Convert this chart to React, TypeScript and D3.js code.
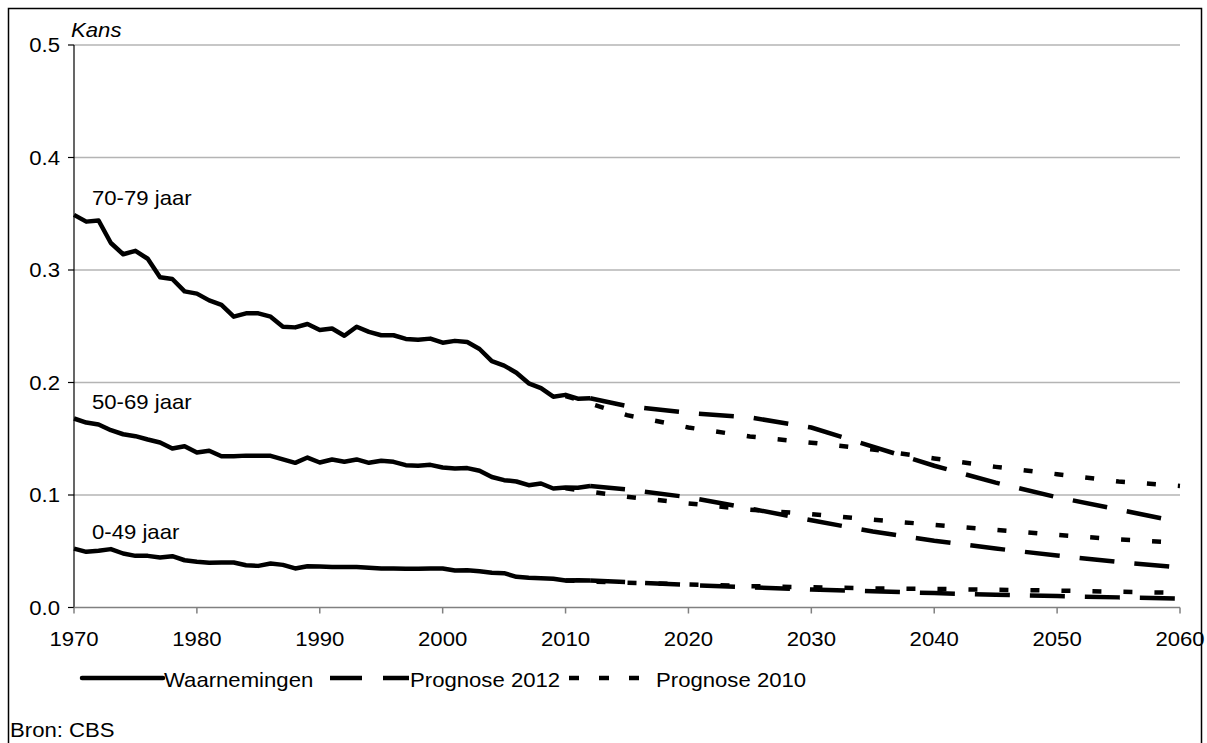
import React from 'react';
import * as d3 from 'd3';

// observed years 1970..2012
const obsYears = d3.range(1970, 2013);

const obs70 = [
  0.349, 0.343, 0.344, 0.324, 0.314, 0.317, 0.31, 0.2935, 0.292, 0.281,
  0.279, 0.273, 0.269, 0.2585, 0.2615, 0.2615, 0.2585, 0.2496, 0.249, 0.252,
  0.2467, 0.248, 0.2416, 0.2496, 0.245, 0.242, 0.242, 0.2387, 0.238, 0.239,
  0.2354, 0.237, 0.236, 0.2298, 0.219, 0.215, 0.2087, 0.1993, 0.195, 0.1874,
  0.189, 0.1856, 0.186,
];
const obs50 = [
  0.168, 0.1644, 0.1627, 0.1576, 0.154, 0.1523, 0.1493, 0.1467, 0.1413, 0.1434,
  0.1378, 0.1393, 0.1345, 0.1345, 0.135, 0.135, 0.1348, 0.1316, 0.1286, 0.1333,
  0.1289, 0.1316, 0.1295, 0.1316, 0.1286, 0.1304, 0.1295, 0.1265, 0.126, 0.1268,
  0.1244, 0.1236, 0.1239, 0.1215, 0.116, 0.1132, 0.112, 0.1087, 0.1102, 0.1058,
  0.1067, 0.1064, 0.108,
];
const obs0 = [
  0.0524, 0.0495, 0.0504, 0.0519, 0.048, 0.0459, 0.0459, 0.0444, 0.0456, 0.042,
  0.0406, 0.0397, 0.04, 0.04, 0.0376, 0.037, 0.0391, 0.0379, 0.0347, 0.0367,
  0.0364, 0.0361, 0.0361, 0.0359, 0.0353, 0.0347, 0.0347, 0.0344, 0.0344, 0.0347,
  0.0347, 0.0329, 0.0332, 0.0323, 0.0308, 0.0305, 0.0273, 0.0264, 0.0261, 0.0255,
  0.024, 0.0243, 0.024,
];

// Prognose 2012
const years2012 = [2012, 2015, 2020, 2025, 2030, 2035, 2040, 2045, 2050, 2055, 2060];
const p2012_70 = [0.186, 0.179, 0.173, 0.169, 0.16, 0.143, 0.126, 0.111, 0.098, 0.087, 0.076];
const p2012_50 = [0.108, 0.105, 0.098, 0.088, 0.0775, 0.0675, 0.0593, 0.0524, 0.0462, 0.0404, 0.0355];
const p2012_0 = [0.024, 0.0225, 0.02, 0.018, 0.016, 0.0145, 0.0128, 0.0114, 0.0102, 0.009, 0.0078];

// Prognose 2010
const years2010 = [2010, 2015, 2020, 2025, 2030, 2035, 2040, 2045, 2050, 2055, 2060];
const p2010_70 = [0.188, 0.171, 0.16, 0.152, 0.1465, 0.1405, 0.1325, 0.125, 0.1185, 0.112, 0.108];
const p2010_50 = [0.106, 0.0985, 0.0925, 0.087, 0.083, 0.078, 0.0735, 0.069, 0.0645, 0.0605, 0.0575];
const p2010_0 = [0.024, 0.022, 0.0205, 0.019, 0.018, 0.017, 0.0165, 0.0158, 0.015, 0.014, 0.013];

const ageLabels = ['70-79 jaar', '50-69 jaar', '0-49 jaar'];
const legendLabels = ['Waarnemingen', 'Prognose 2012', 'Prognose 2010'];
const xTicks = d3.range(1970, 2061, 10);
const yTicks = [0, 0.1, 0.2, 0.3, 0.4, 0.5];

const W = 1207;
const H = 743;
const font = '"Liberation Sans", Arial, sans-serif';
const FS = 20.5;
const SX = 1.08; // the original text is a bit wider than it is tall

// text stretched horizontally like the source picture
const T: React.FC<{ x: number; y: number; anchor?: string; italic?: boolean; dy?: string; children: React.ReactNode }> = ({
  x, y, anchor = 'start', italic, dy, children,
}) => (
  <g transform={`translate(${x},${y}) scale(${SX},1)`}>
    <text x={0} y={0} dy={dy} textAnchor={anchor} fontSize={FS} fontStyle={italic ? 'italic' : 'normal'}>
      {children}
    </text>
  </g>
);

const App: React.FC = () => {
  const plot = { left: 74, right: 1180, top: 45, bottom: 607.5 };
  const x = d3.scaleLinear().domain([1970, 2060]).range([plot.left, plot.right]);
  const y = d3.scaleLinear().domain([0, 0.5]).range([plot.bottom, plot.top]);

  const line = d3
    .line<[number, number]>()
    .x(d => x(d[0]))
    .y(d => y(d[1]));

  const zip = (ys: number[], vs: number[]) => ys.map((yr, i) => [yr, vs[i]] as [number, number]);

  const solid = [obs70, obs50, obs0].map(v => zip(obsYears, v));
  const dashed = [p2012_70, p2012_50, p2012_0].map(v => zip(years2012, v));
  const dotted = [p2010_70, p2010_50, p2010_0].map(v => zip(years2010, v));

  const labelPos = [obs70[0], obs50[0], obs0[0]];

  return (
    <svg
      width={W}
      height={H}
      style={{ position: 'absolute', left: 0, top: 0, background: '#fff' }}
      fontFamily={font}
    >
      <rect x={8.5} y={8.5} width={1193} height={780} fill="#fff" stroke="#000" strokeWidth={1.5} />

      {/* gridlines */}
      {yTicks.filter(t => t > 0).map(t => (
        <line key={t} x1={plot.left} x2={plot.right} y1={y(t)} y2={y(t)} stroke="#b4b4b4" strokeWidth={1.3} />
      ))}

      {/* y axis */}
      <line x1={plot.left} x2={plot.left} y1={plot.top} y2={plot.bottom} stroke="#000" strokeWidth={1.2} />
      {yTicks.map(t => (
        <g key={t}>
          <line x1={plot.left - 6} x2={plot.left} y1={y(t)} y2={y(t)} stroke="#000" strokeWidth={1.2} />
          <T x={60} y={y(t)} dy="0.35em" anchor="end">{d3.format('.1f')(t)}</T>
        </g>
      ))}
      <T x={71} y={37} italic>Kans</T>

      {/* x axis */}
      <line x1={plot.left} x2={plot.right} y1={plot.bottom} y2={plot.bottom} stroke="#808080" strokeWidth={1.5} />
      {xTicks.map(t => (
        <g key={t}>
          <line x1={x(t)} x2={x(t)} y1={plot.bottom} y2={plot.bottom + 6} stroke="#808080" strokeWidth={1.5} />
          <T x={x(t)} y={646} anchor="middle">{t}</T>
        </g>
      ))}

      {/* series */}
      {dotted.map((d, i) => (
        <path key={'p10' + i} d={line(d) ?? ''} fill="none" stroke="#000" strokeWidth={4.5} strokeDasharray="9,22" />
      ))}
      {dashed.map((d, i) => (
        <path key={'p12' + i} d={line(d) ?? ''} fill="none" stroke="#000" strokeWidth={4.5} strokeDasharray="35,20" />
      ))}
      {solid.map((d, i) => (
        <path key={'obs' + i} d={line(d) ?? ''} fill="none" stroke="#000" strokeWidth={4.5} strokeLinejoin="round" />
      ))}

      {/* age labels */}
      {ageLabels.map((lab, i) => (
        <T key={lab} x={92} y={y(labelPos[i]) - 10}>{lab}</T>
      ))}

      {/* legend */}
      <line x1={82} x2={163} y1={678} y2={678} stroke="#000" strokeWidth={4.5} strokeLinecap="round" />
      <T x={164} y={687}>{legendLabels[0]}</T>
      <line x1={330} x2={409} y1={678} y2={678} stroke="#000" strokeWidth={4.5} strokeDasharray="32,21" />
      <T x={410} y={687}>{legendLabels[1]}</T>
      <line x1={569} x2={641} y1={678} y2={678} stroke="#000" strokeWidth={4.5} strokeDasharray="10,20" />
      <T x={656} y={687}>{legendLabels[2]}</T>

      <T x={10} y={737}>Bron: CBS</T>
    </svg>
  );
};

export default App;
